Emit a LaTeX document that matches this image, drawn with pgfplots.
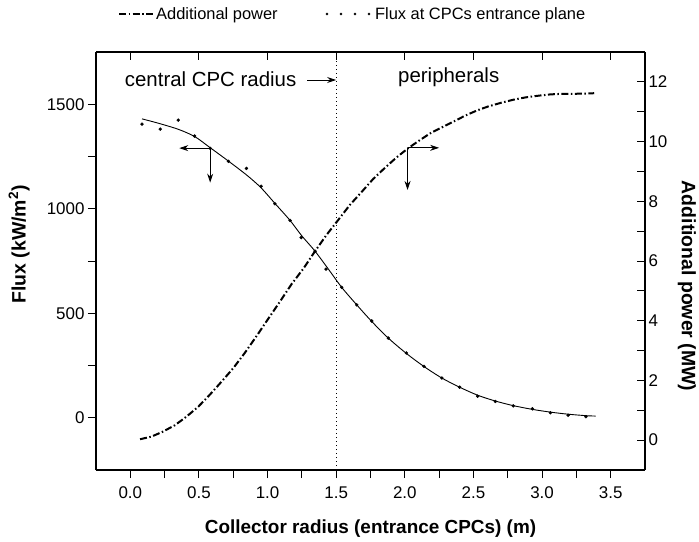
\documentclass[border=0pt]{standalone}
\usepackage{pgfplots}
\pgfplotsset{compat=1.18}
\usepackage{fontspec}
\setmainfont{Liberation Sans}
\usetikzlibrary{arrows.meta}
\pgfplotsset{
  common/.style={
    scale only axis, width=549bp, height=418bp,
    xmin=-0.25, xmax=3.75,
    major tick length=8bp, minor tick length=8bp,
    every tick/.style={black, line width=0.9bp},
    axis line style={line width=1.1bp},
    xtick={0,0.5,1,1.5,2,2.5,3,3.5},
  },
  dashlegend/.style={legend image code/.code={\draw[##1] (0bp,0bp) -- (34bp,0bp);}},
  dotlegend/.style={legend image code/.code={\foreach \i in {0,1,2,3}{\fill (\i*14bp,0bp) circle (1.1bp);}\path[draw=none,fill=none] (46bp,0bp) circle (0.1bp);}},
}
\begin{document}
\begin{tikzpicture}
\path[use as bounding box] (-96bp,-72bp) rectangle (603bp,470bp);
% left axis: flux
\begin{axis}[common,
  axis x line*=bottom, axis y line*=left,
  tick align=outside,
  ymin=-250, ymax=1750,
  ytick={0,500,1000,1500}, minor y tick num=1,
  minor x tick num=1,
  xticklabel={\fontsize{17}{19}\selectfont\pgfmathprintnumber[fixed,fixed zerofill,precision=1,assume math mode=true]{\tick}},
  yticklabel={\fontsize{17}{19}\selectfont\pgfmathprintnumber[fixed,1000 sep={},assume math mode=true]{\tick}},
  xticklabel style={yshift=-5bp},
  xlabel={\bfseries\fontsize{19}{21}\selectfont Collector radius (entrance CPCs) (m)},
  xlabel style={at={(axis description cs:0.5,-0.152)}, anchor=base},
  ylabel={\bfseries\fontsize{19.5}{21}\selectfont Flux (kW/m\textsuperscript{2})},
  ylabel style={at={(axis description cs:-0.14,0.54)}, anchor=center},
  legend columns=2,
  legend style={at={(axis description cs:0.04,1.091)}, anchor=west, draw=none, fill=none,
    inner sep=0pt,
    /tikz/every even column/.append style={column sep=46bp}},
]
\addlegendimage{black, line width=2bp, dash pattern=on 7bp off 2.5bp on 1.5bp off 2.5bp, dashlegend}
\addlegendentry{\fontsize{16.5}{18}\selectfont Additional power}
\addplot[only marks, mark=*, mark size=1.5bp, black, dotlegend] table {
x y
0.085 1405
0.218 1381
0.349 1424
0.468 1348
0.582 1289
0.715 1227
0.846 1193
0.953 1108
1.053 1024
1.164 944
1.245 862
1.346 797
1.426 711
1.54 624
1.65 540
1.759 463
1.88 381
2.011 310
2.14 246
2.27 190
2.40 146
2.53 103
2.66 78
2.79 57
2.93 43
3.06 24
3.19 12
3.32 5
};
\addlegendentry{\fontsize{16.5}{18}\selectfont Flux at CPCs entrance plane}
% fitted curve
\addplot[black, line width=0.9bp, smooth, forget plot] table {
x y
0.085 1430
0.2 1410
0.35 1380
0.47 1345
0.58 1293
0.715 1228
0.85 1160
0.953 1100
1.053 1026
1.164 944
1.25 870
1.346 797
1.45 705
1.54 624
1.65 540
1.76 460
1.88 381
2.011 308
2.14 245
2.27 190
2.40 146
2.53 108
2.66 80
2.79 58
2.93 40
3.06 27
3.19 17
3.32 10
3.39 8
};
% divider
\addplot[black, line width=0.9bp, dash pattern=on 1bp off 3bp, forget plot] coordinates {(1.5,-250) (1.5,1750)};
\draw[-{Stealth[length=9bp,width=6bp]}, line width=0.9bp] (axis cs:0.582,1290) -- (axis cs:0.357,1290);
\draw[-{Stealth[length=9bp,width=6bp]}, line width=0.9bp] (axis cs:0.582,1290) -- (axis cs:0.582,1125);
\draw[-{Stealth[length=9bp,width=6bp]}, line width=0.9bp] (axis cs:1.29,1616) -- (axis cs:1.5,1616);
\node[font=\fontsize{20.5}{22}\selectfont] at (axis cs:0.585,1620) {central CPC radius};
\node[font=\fontsize{20.5}{22}\selectfont] at (axis cs:2.32,1630) {peripherals};
\end{axis}
% right axis: power
\begin{axis}[common,
  axis x line=none, axis y line*=right,
  tick align=inside,
  ymin=-1, ymax=13,
  ytick={0,2,4,6,8,10,12}, minor y tick num=1,
  yticklabel={\fontsize{17}{19}\selectfont\pgfmathprintnumber[assume math mode=true]{\tick}},
  ylabel={\bfseries\fontsize{19.5}{21}\selectfont Additional power (MW)},
  ylabel style={at={(axis description cs:1.0765,0.44)}, anchor=center, rotate=180},
]
\addplot[black, line width=2bp, dash pattern=on 7bp off 2.5bp on 1.5bp off 2.5bp] table {
x y
0.071 0.03
0.155 0.12
0.235 0.28
0.325 0.50
0.41 0.79
0.495 1.12
0.577 1.51
0.665 1.96
0.75 2.41
0.837 2.94
0.922 3.50
1.004 4.06
1.089 4.63
1.174 5.22
1.262 5.75
1.346 6.33
1.429 6.87
1.514 7.37
1.60 7.88
1.683 8.30
1.77 8.75
1.855 9.12
1.94 9.47
2.025 9.78
2.11 10.05
2.193 10.30
2.28 10.50
2.36 10.68
2.44 10.87
2.53 11.05
2.61 11.18
2.71 11.31
2.79 11.40
2.88 11.48
2.98 11.54
3.06 11.58
3.15 11.60
3.24 11.60
3.33 11.61
3.38 11.62
};
\draw[-{Stealth[length=9bp,width=6bp]}, line width=0.9bp] (axis cs:2.02,9.79) -- (axis cs:2.25,9.79);
\draw[-{Stealth[length=9bp,width=6bp]}, line width=0.9bp] (axis cs:2.02,9.79) -- (axis cs:2.02,8.38);
\end{axis}
% top axis line
\begin{axis}[common,
  axis x line*=top, axis y line=none,
  tick align=inside, xticklabels={},
  ymin=0, ymax=1,
]
\end{axis}
\end{tikzpicture}
\end{document}
